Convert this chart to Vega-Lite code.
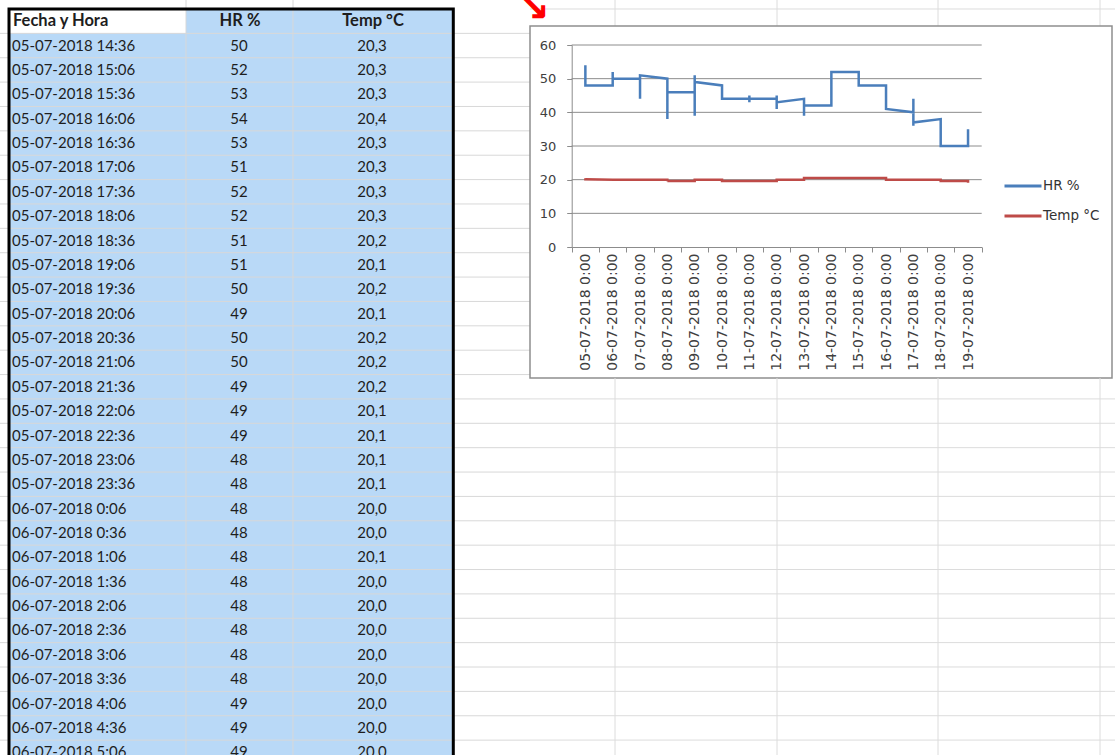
{
  "$schema": "https://vega.github.io/schema/vega-lite/v6.json",
  "padding": 0,
  "background": "white",
  "config": {
    "view": {"stroke": null},
    "text": {"font": "Lato", "fontSize": 15, "color": "#1e1e1e"},
    "axis": {"labelFont": "DejaVu Sans", "labelColor": "#404040"},
    "legend": {"labelFont": "DejaVu Sans", "labelColor": "#333333"}
  },
  "datasets": {
    "tabla": [
      {"r": 1, "fecha": "05-07-2018 14:36", "hr": 50, "temp": "20,3"},
      {"r": 2, "fecha": "05-07-2018 15:06", "hr": 52, "temp": "20,3"},
      {"r": 3, "fecha": "05-07-2018 15:36", "hr": 53, "temp": "20,3"},
      {"r": 4, "fecha": "05-07-2018 16:06", "hr": 54, "temp": "20,4"},
      {"r": 5, "fecha": "05-07-2018 16:36", "hr": 53, "temp": "20,3"},
      {"r": 6, "fecha": "05-07-2018 17:06", "hr": 51, "temp": "20,3"},
      {"r": 7, "fecha": "05-07-2018 17:36", "hr": 52, "temp": "20,3"},
      {"r": 8, "fecha": "05-07-2018 18:06", "hr": 52, "temp": "20,3"},
      {"r": 9, "fecha": "05-07-2018 18:36", "hr": 51, "temp": "20,2"},
      {"r": 10, "fecha": "05-07-2018 19:06", "hr": 51, "temp": "20,1"},
      {"r": 11, "fecha": "05-07-2018 19:36", "hr": 50, "temp": "20,2"},
      {"r": 12, "fecha": "05-07-2018 20:06", "hr": 49, "temp": "20,1"},
      {"r": 13, "fecha": "05-07-2018 20:36", "hr": 50, "temp": "20,2"},
      {"r": 14, "fecha": "05-07-2018 21:06", "hr": 50, "temp": "20,2"},
      {"r": 15, "fecha": "05-07-2018 21:36", "hr": 49, "temp": "20,2"},
      {"r": 16, "fecha": "05-07-2018 22:06", "hr": 49, "temp": "20,1"},
      {"r": 17, "fecha": "05-07-2018 22:36", "hr": 49, "temp": "20,1"},
      {"r": 18, "fecha": "05-07-2018 23:06", "hr": 48, "temp": "20,1"},
      {"r": 19, "fecha": "05-07-2018 23:36", "hr": 48, "temp": "20,1"},
      {"r": 20, "fecha": "06-07-2018 0:06", "hr": 48, "temp": "20,0"},
      {"r": 21, "fecha": "06-07-2018 0:36", "hr": 48, "temp": "20,0"},
      {"r": 22, "fecha": "06-07-2018 1:06", "hr": 48, "temp": "20,1"},
      {"r": 23, "fecha": "06-07-2018 1:36", "hr": 48, "temp": "20,0"},
      {"r": 24, "fecha": "06-07-2018 2:06", "hr": 48, "temp": "20,0"},
      {"r": 25, "fecha": "06-07-2018 2:36", "hr": 48, "temp": "20,0"},
      {"r": 26, "fecha": "06-07-2018 3:06", "hr": 48, "temp": "20,0"},
      {"r": 27, "fecha": "06-07-2018 3:36", "hr": 48, "temp": "20,0"},
      {"r": 28, "fecha": "06-07-2018 4:06", "hr": 49, "temp": "20,0"},
      {"r": 29, "fecha": "06-07-2018 4:36", "hr": 49, "temp": "20,0"},
      {"r": 30, "fecha": "06-07-2018 5:06", "hr": 49, "temp": "20,0"}
    ],
    "cabecera": [{"r": 0, "fecha": "Fecha y Hora", "hr": "HR %", "temp": "Temp °C"}],
    "flecha": [{"f": "↘"}],
    "serie": [
      {"i": 1, "d": "05-07-2018 0:00", "HR %": 50, "Temp °C": 20.3},
      {"i": 2, "d": "05-07-2018 0:00", "HR %": 52, "Temp °C": 20.3},
      {"i": 3, "d": "05-07-2018 0:00", "HR %": 53, "Temp °C": 20.3},
      {"i": 4, "d": "05-07-2018 0:00", "HR %": 54, "Temp °C": 20.4},
      {"i": 5, "d": "05-07-2018 0:00", "HR %": 53, "Temp °C": 20.3},
      {"i": 6, "d": "05-07-2018 0:00", "HR %": 51, "Temp °C": 20.3},
      {"i": 7, "d": "05-07-2018 0:00", "HR %": 52, "Temp °C": 20.3},
      {"i": 8, "d": "05-07-2018 0:00", "HR %": 52, "Temp °C": 20.3},
      {"i": 9, "d": "05-07-2018 0:00", "HR %": 51, "Temp °C": 20.2},
      {"i": 10, "d": "05-07-2018 0:00", "HR %": 51, "Temp °C": 20.1},
      {"i": 11, "d": "05-07-2018 0:00", "HR %": 50, "Temp °C": 20.2},
      {"i": 12, "d": "05-07-2018 0:00", "HR %": 49, "Temp °C": 20.1},
      {"i": 13, "d": "05-07-2018 0:00", "HR %": 50, "Temp °C": 20.2},
      {"i": 14, "d": "05-07-2018 0:00", "HR %": 50, "Temp °C": 20.2},
      {"i": 15, "d": "05-07-2018 0:00", "HR %": 49, "Temp °C": 20.2},
      {"i": 16, "d": "05-07-2018 0:00", "HR %": 49, "Temp °C": 20.1},
      {"i": 17, "d": "05-07-2018 0:00", "HR %": 49, "Temp °C": 20.1},
      {"i": 18, "d": "05-07-2018 0:00", "HR %": 48, "Temp °C": 20.1},
      {"i": 19, "d": "05-07-2018 0:00", "HR %": 48, "Temp °C": 20.1},
      {"i": 20, "d": "06-07-2018 0:00", "HR %": 48, "Temp °C": 20.0},
      {"i": 21, "d": "06-07-2018 0:00", "HR %": 48, "Temp °C": 20.0},
      {"i": 22, "d": "06-07-2018 0:00", "HR %": 48, "Temp °C": 20.1},
      {"i": 23, "d": "06-07-2018 0:00", "HR %": 48, "Temp °C": 20.0},
      {"i": 24, "d": "06-07-2018 0:00", "HR %": 48, "Temp °C": 20.0},
      {"i": 25, "d": "06-07-2018 0:00", "HR %": 48, "Temp °C": 20.0},
      {"i": 26, "d": "06-07-2018 0:00", "HR %": 48, "Temp °C": 20.0},
      {"i": 27, "d": "06-07-2018 0:00", "HR %": 48, "Temp °C": 20.0},
      {"i": 28, "d": "06-07-2018 0:00", "HR %": 49, "Temp °C": 20.0},
      {"i": 29, "d": "06-07-2018 0:00", "HR %": 49, "Temp °C": 20.0},
      {"i": 30, "d": "06-07-2018 0:00", "HR %": 49, "Temp °C": 20.0},
      {"i": 31, "d": "06-07-2018 0:00", "HR %": 50, "Temp °C": 20.1},
      {"i": 32, "d": "06-07-2018 0:00", "HR %": 51, "Temp °C": 20.2},
      {"i": 33, "d": "06-07-2018 0:00", "HR %": 52, "Temp °C": 20.1},
      {"i": 34, "d": "06-07-2018 0:00", "HR %": 52, "Temp °C": 20.0},
      {"i": 35, "d": "06-07-2018 0:00", "HR %": 51, "Temp °C": 20.0},
      {"i": 36, "d": "06-07-2018 0:00", "HR %": 50, "Temp °C": 20.0},
      {"i": 37, "d": "07-07-2018 0:00", "HR %": 50, "Temp °C": 20.0},
      {"i": 38, "d": "07-07-2018 0:00", "HR %": 51, "Temp °C": 20.0},
      {"i": 39, "d": "07-07-2018 0:00", "HR %": 48, "Temp °C": 19.8},
      {"i": 40, "d": "07-07-2018 0:00", "HR %": 44, "Temp °C": 19.7},
      {"i": 41, "d": "07-07-2018 0:00", "HR %": 47, "Temp °C": 19.8},
      {"i": 42, "d": "07-07-2018 0:00", "HR %": 50, "Temp °C": 19.9},
      {"i": 43, "d": "07-07-2018 0:00", "HR %": 51, "Temp °C": 20.0},
      {"i": 44, "d": "08-07-2018 0:00", "HR %": 50, "Temp °C": 20.0},
      {"i": 45, "d": "08-07-2018 0:00", "HR %": 47, "Temp °C": 19.8},
      {"i": 46, "d": "08-07-2018 0:00", "HR %": 42, "Temp °C": 19.6},
      {"i": 47, "d": "08-07-2018 0:00", "HR %": 38, "Temp °C": 19.5},
      {"i": 48, "d": "08-07-2018 0:00", "HR %": 41, "Temp °C": 19.5},
      {"i": 49, "d": "08-07-2018 0:00", "HR %": 44, "Temp °C": 19.6},
      {"i": 50, "d": "08-07-2018 0:00", "HR %": 46, "Temp °C": 19.6},
      {"i": 51, "d": "09-07-2018 0:00", "HR %": 46, "Temp °C": 19.6},
      {"i": 52, "d": "09-07-2018 0:00", "HR %": 50, "Temp °C": 19.8},
      {"i": 53, "d": "09-07-2018 0:00", "HR %": 51, "Temp °C": 20.1},
      {"i": 54, "d": "09-07-2018 0:00", "HR %": 45, "Temp °C": 20.0},
      {"i": 55, "d": "09-07-2018 0:00", "HR %": 39, "Temp °C": 19.9},
      {"i": 56, "d": "09-07-2018 0:00", "HR %": 43, "Temp °C": 20.0},
      {"i": 57, "d": "09-07-2018 0:00", "HR %": 49, "Temp °C": 20.0},
      {"i": 58, "d": "10-07-2018 0:00", "HR %": 48, "Temp °C": 20.0},
      {"i": 59, "d": "10-07-2018 0:00", "HR %": 46, "Temp °C": 19.8},
      {"i": 60, "d": "10-07-2018 0:00", "HR %": 44, "Temp °C": 19.6},
      {"i": 61, "d": "11-07-2018 0:00", "HR %": 44, "Temp °C": 19.6},
      {"i": 62, "d": "11-07-2018 0:00", "HR %": 45, "Temp °C": 19.6},
      {"i": 63, "d": "11-07-2018 0:00", "HR %": 43, "Temp °C": 19.5},
      {"i": 64, "d": "11-07-2018 0:00", "HR %": 44, "Temp °C": 19.6},
      {"i": 65, "d": "12-07-2018 0:00", "HR %": 44, "Temp °C": 19.6},
      {"i": 66, "d": "12-07-2018 0:00", "HR %": 45, "Temp °C": 19.7},
      {"i": 67, "d": "12-07-2018 0:00", "HR %": 41, "Temp °C": 19.8},
      {"i": 68, "d": "12-07-2018 0:00", "HR %": 43, "Temp °C": 20.0},
      {"i": 69, "d": "13-07-2018 0:00", "HR %": 44, "Temp °C": 20.0},
      {"i": 70, "d": "13-07-2018 0:00", "HR %": 41, "Temp °C": 20.1},
      {"i": 71, "d": "13-07-2018 0:00", "HR %": 39, "Temp °C": 20.3},
      {"i": 72, "d": "13-07-2018 0:00", "HR %": 42, "Temp °C": 20.5},
      {"i": 73, "d": "14-07-2018 0:00", "HR %": 42, "Temp °C": 20.5},
      {"i": 74, "d": "14-07-2018 0:00", "HR %": 46, "Temp °C": 20.5},
      {"i": 75, "d": "14-07-2018 0:00", "HR %": 50, "Temp °C": 20.5},
      {"i": 76, "d": "14-07-2018 0:00", "HR %": 52, "Temp °C": 20.5},
      {"i": 77, "d": "15-07-2018 0:00", "HR %": 52, "Temp °C": 20.5},
      {"i": 78, "d": "15-07-2018 0:00", "HR %": 51, "Temp °C": 20.5},
      {"i": 79, "d": "15-07-2018 0:00", "HR %": 50, "Temp °C": 20.5},
      {"i": 80, "d": "15-07-2018 0:00", "HR %": 48, "Temp °C": 20.5},
      {"i": 81, "d": "16-07-2018 0:00", "HR %": 48, "Temp °C": 20.5},
      {"i": 82, "d": "16-07-2018 0:00", "HR %": 45, "Temp °C": 20.3},
      {"i": 83, "d": "16-07-2018 0:00", "HR %": 43, "Temp °C": 20.1},
      {"i": 84, "d": "16-07-2018 0:00", "HR %": 41, "Temp °C": 20.0},
      {"i": 85, "d": "17-07-2018 0:00", "HR %": 40, "Temp °C": 20.0},
      {"i": 86, "d": "17-07-2018 0:00", "HR %": 44, "Temp °C": 20.0},
      {"i": 87, "d": "17-07-2018 0:00", "HR %": 41, "Temp °C": 19.8},
      {"i": 88, "d": "17-07-2018 0:00", "HR %": 36, "Temp °C": 19.9},
      {"i": 89, "d": "17-07-2018 0:00", "HR %": 37, "Temp °C": 20.0},
      {"i": 90, "d": "18-07-2018 0:00", "HR %": 38, "Temp °C": 20.0},
      {"i": 91, "d": "18-07-2018 0:00", "HR %": 35, "Temp °C": 19.8},
      {"i": 92, "d": "18-07-2018 0:00", "HR %": 32, "Temp °C": 19.6},
      {"i": 93, "d": "18-07-2018 0:00", "HR %": 30, "Temp °C": 19.6},
      {"i": 94, "d": "19-07-2018 0:00", "HR %": 30, "Temp °C": 19.6},
      {"i": 95, "d": "19-07-2018 0:00", "HR %": 32, "Temp °C": 19.3},
      {"i": 96, "d": "19-07-2018 0:00", "HR %": 35, "Temp °C": 19.1}
    ]
  },
  "spacing": 0,
  "bounds": "flush",
  "hconcat": [
    {
      "width": 530,
      "height": 755,
      "layer": [
        {
          "data": {"values": [{}]},
          "mark": {"type": "rect", "color": "#b9d9f7", "clip": true},
          "encoding": {
            "x": {"datum": 9, "type": "quantitative", "scale": {"domain": [0, 530], "nice": false, "zero": false}, "axis": null},
            "x2": {"datum": 453},
            "y": {"datum": 1, "type": "quantitative", "scale": {"domain": [-0.369, 30.61], "reverse": true, "nice": false, "zero": false}, "axis": null},
            "y2": {"datum": 32}
          }
        },
        {
          "data": {"values": [{}]},
          "mark": {"type": "rect", "color": "#b9d9f7", "clip": true},
          "encoding": {
            "x": {"datum": 186, "type": "quantitative", "axis": null},
            "x2": {"datum": 453},
            "y": {"datum": 0, "type": "quantitative", "axis": null},
            "y2": {"datum": 1}
          }
        },
        {
          "data": {"name": "tabla"},
          "mark": {"type": "rule", "color": "#d8d8d8", "strokeWidth": 1, "clip": true},
          "encoding": {"y": {"field": "r", "type": "quantitative", "axis": null}}
        },
        {"data": {"values": [{}]}, "mark": {"type": "rule", "color": "#d8d8d8", "clip": true}, "encoding": {"x": {"datum": 186, "type": "quantitative", "axis": null}}},
        {"data": {"values": [{}]}, "mark": {"type": "rule", "color": "#d8d8d8", "clip": true}, "encoding": {"x": {"datum": 293, "type": "quantitative", "axis": null}}},
        {
          "data": {"values": [{}]},
          "mark": {"type": "rect", "filled": false, "stroke": "#000000", "strokeWidth": 3, "clip": true},
          "encoding": {
            "x": {"datum": 9, "type": "quantitative", "axis": null},
            "x2": {"datum": 453.3},
            "y": {"datum": 0, "type": "quantitative", "axis": null},
            "y2": {"datum": 40}
          }
        },
        {
          "data": {"name": "cabecera"},
          "mark": {"type": "text", "align": "left", "baseline": "middle", "dy": 12.2, "fontWeight": "bold", "fontSize": 16.5, "clip": true},
          "encoding": {"x": {"datum": 13, "type": "quantitative", "axis": null}, "y": {"field": "r", "type": "quantitative", "axis": null}, "text": {"field": "fecha"}}
        },
        {
          "data": {"name": "cabecera"},
          "mark": {"type": "text", "align": "center", "baseline": "middle", "dy": 12.2, "fontWeight": "bold", "fontSize": 16.5, "clip": true},
          "encoding": {"x": {"datum": 240, "type": "quantitative", "axis": null}, "y": {"field": "r", "type": "quantitative", "axis": null}, "text": {"field": "hr"}}
        },
        {
          "data": {"name": "cabecera"},
          "mark": {"type": "text", "align": "center", "baseline": "middle", "dy": 12.2, "fontWeight": "bold", "fontSize": 16.5, "clip": true},
          "encoding": {"x": {"datum": 373, "type": "quantitative", "axis": null}, "y": {"field": "r", "type": "quantitative", "axis": null}, "text": {"field": "temp"}}
        },
        {
          "data": {"name": "tabla"},
          "mark": {"type": "text", "align": "left", "baseline": "middle", "dy": 12.2, "clip": true},
          "encoding": {"x": {"datum": 12, "type": "quantitative", "axis": null}, "y": {"field": "r", "type": "quantitative", "axis": null}, "text": {"field": "fecha"}}
        },
        {
          "data": {"name": "tabla"},
          "mark": {"type": "text", "align": "center", "baseline": "middle", "dy": 12.2, "clip": true},
          "encoding": {"x": {"datum": 239, "type": "quantitative", "axis": null}, "y": {"field": "r", "type": "quantitative", "axis": null}, "text": {"field": "hr"}}
        },
        {
          "data": {"name": "tabla"},
          "mark": {"type": "text", "align": "center", "baseline": "middle", "dy": 12.2, "clip": true},
          "encoding": {"x": {"datum": 372, "type": "quantitative", "axis": null}, "y": {"field": "r", "type": "quantitative", "axis": null}, "text": {"field": "temp"}}
        },
        {
          "data": {"name": "flecha"},
          "mark": {"type": "text", "align": "center", "baseline": "middle", "font": "DejaVu Sans", "fontSize": 40, "fontWeight": "bold", "color": "#ff0000", "clip": true},
          "encoding": {"x": {"datum": 533, "type": "quantitative", "axis": null}, "y": {"datum": -0.02, "type": "quantitative", "axis": null}, "text": {"field": "f"}}
        }
      ]
    },
    {
      "spacing": 0,
      "bounds": "flush",
      "vconcat": [
        {
          "width": 585,
          "height": 26,
          "layer": [
            {
              "data": {"name": "cabecera"},
              "mark": {"type": "rule", "color": "#dcdcdc", "clip": true},
              "encoding": {
                "y": {"field": "r", "type": "quantitative", "scale": {"domain": [-0.369, 0.698], "reverse": true, "nice": false, "zero": false}, "axis": null}
              }
            },
            {"data": {"values": [{}]}, "mark": {"type": "rule", "color": "#dcdcdc", "clip": true}, "encoding": {"x": {"datum": 615, "type": "quantitative", "scale": {"domain": [530, 1115], "nice": false, "zero": false}, "axis": null}}},
            {"data": {"values": [{}]}, "mark": {"type": "rule", "color": "#dcdcdc", "clip": true}, "encoding": {"x": {"datum": 777, "type": "quantitative", "axis": null}}},
            {"data": {"values": [{}]}, "mark": {"type": "rule", "color": "#dcdcdc", "clip": true}, "encoding": {"x": {"datum": 938, "type": "quantitative", "axis": null}}},
            {"data": {"values": [{}]}, "mark": {"type": "rule", "color": "#dcdcdc", "clip": true}, "encoding": {"x": {"datum": 1100, "type": "quantitative", "axis": null}}},
            {
              "data": {"name": "flecha"},
              "mark": {"type": "text", "align": "center", "baseline": "middle", "font": "DejaVu Sans", "fontSize": 40, "fontWeight": "bold", "color": "#ff0000", "clip": true},
              "encoding": {"x": {"datum": 533, "type": "quantitative", "axis": null}, "y": {"datum": -0.02, "type": "quantitative", "axis": null}, "text": {"field": "f"}}
            }
          ]
        },
        {
          "width": 582,
          "height": 352,
          "view": {"stroke": "#8e8e8e", "strokeWidth": 1.5, "fill": "white"},
          "layer": [
            {
              "data": {"values": [{"g": 10}, {"g": 20}, {"g": 30}, {"g": 40}, {"g": 50}, {"g": 60}]},
              "mark": {"type": "rule", "color": "#8c8c8c", "strokeWidth": 1},
              "encoding": {
                "y": {"field": "g", "type": "quantitative"},
                "x": {"datum": "05-07-2018 0:00", "type": "ordinal", "bandPosition": 0},
                "x2": {"datum": "19-07-2018 0:00", "bandPosition": 1}
              }
            },
            {
              "data": {"name": "serie"},
              "transform": [{"fold": ["HR %", "Temp °C"], "as": ["serie", "valor"]}],
              "mark": {"type": "line", "strokeWidth": 2.5},
              "encoding": {
                "x": {
                  "field": "d",
                  "type": "ordinal",
                  "bandPosition": 0.5,
                  "scale": {
                    "type": "band",
                    "domain": ["05-07-2018 0:00", "06-07-2018 0:00", "07-07-2018 0:00", "08-07-2018 0:00", "09-07-2018 0:00", "10-07-2018 0:00", "11-07-2018 0:00", "12-07-2018 0:00", "13-07-2018 0:00", "14-07-2018 0:00", "15-07-2018 0:00", "16-07-2018 0:00", "17-07-2018 0:00", "18-07-2018 0:00", "19-07-2018 0:00"],
                    "range": [41.7, 451.7],
                    "paddingInner": 0,
                    "paddingOuter": 0
                  },
                  "axis": {
                    "title": null,
                    "offset": -131,
                    "tickBand": "extent",
                    "tickSize": 5,
                    "tickColor": "#8c8c8c",
                    "domainColor": "#8c8c8c",
                    "labelAngle": -90,
                    "labelAlign": "right",
                    "labelBaseline": "middle",
                    "labelPadding": 1,
                    "labelFontSize": 14,
                    "labelOverlap": false,
                    "grid": false
                  }
                },
                "y": {
                  "field": "valor",
                  "type": "quantitative",
                  "scale": {"domain": [0, 60], "range": [221, 19], "nice": false, "zero": false},
                  "axis": {
                    "title": null,
                    "offset": -41.7,
                    "values": [0, 10, 20, 30, 40, 50, 60],
                    "tickSize": 5,
                    "tickColor": "#8c8c8c",
                    "domainColor": "#8c8c8c",
                    "labelPadding": 11,
                    "labelFontSize": 13,
                    "grid": false
                  }
                },
                "color": {
                  "field": "serie",
                  "type": "nominal",
                  "scale": {"domain": ["HR %", "Temp °C"], "range": ["#4a7ebb", "#be4b48"]},
                  "legend": {
                    "title": null,
                    "orient": "none",
                    "legendX": 1003,
                    "legendY": 178,
                    "symbolType": "stroke",
                    "symbolSize": 1369,
                    "symbolStrokeWidth": 3,
                    "labelFontSize": 13.5,
                    "labelOffset": 0,
                    "rowPadding": 14,
                    "clipHeight": 16
                  }
                },
                "order": {"field": "i", "type": "quantitative"}
              }
            }
          ]
        },
        {
          "width": 585,
          "height": 377,
          "layer": [
            {
              "data": {"name": "tabla"},
              "mark": {"type": "rule", "color": "#dcdcdc", "clip": true},
              "encoding": {
                "y": {"field": "r", "type": "quantitative", "scale": {"domain": [15.142, 30.612], "reverse": true, "nice": false, "zero": false}, "axis": null}
              }
            },
            {"data": {"values": [{}]}, "mark": {"type": "rule", "color": "#dcdcdc", "clip": true}, "encoding": {"x": {"datum": 615, "type": "quantitative", "scale": {"domain": [530, 1115], "nice": false, "zero": false}, "axis": null}}},
            {"data": {"values": [{}]}, "mark": {"type": "rule", "color": "#dcdcdc", "clip": true}, "encoding": {"x": {"datum": 777, "type": "quantitative", "axis": null}}},
            {"data": {"values": [{}]}, "mark": {"type": "rule", "color": "#dcdcdc", "clip": true}, "encoding": {"x": {"datum": 938, "type": "quantitative", "axis": null}}},
            {"data": {"values": [{}]}, "mark": {"type": "rule", "color": "#dcdcdc", "clip": true}, "encoding": {"x": {"datum": 1100, "type": "quantitative", "axis": null}}}
          ]
        }
      ]
    }
  ]
}
